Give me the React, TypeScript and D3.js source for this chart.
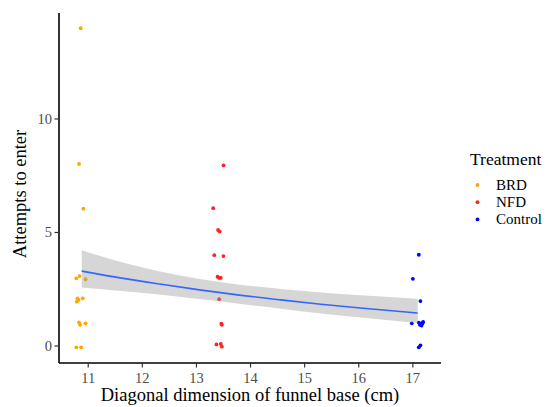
import React from "react";
import * as d3 from "d3";

// Jittered observations (x = funnel diagonal in cm, y = attempts)
const brdX = [10.86, 10.83, 10.91, 10.78, 10.84, 10.95, 10.80, 10.90, 10.79, 10.82, 10.83, 10.85, 10.95, 10.78, 10.87];
const brdY = [14.0, 8.02, 6.05, 2.98, 3.08, 2.94, 2.10, 2.10, 1.95, 2.03, 1.04, 0.93, 1.0, -0.06, -0.06];
const nfdX = [13.50, 13.31, 13.40, 13.43, 13.33, 13.50, 13.39, 13.42, 13.45, 13.42, 13.46, 13.47, 13.37, 13.45, 13.47];
const nfdY = [7.96, 6.07, 5.11, 5.04, 4.0, 3.96, 3.05, 3.0, 3.0, 2.06, 0.98, 0.93, 0.07, 0.09, -0.03];
const ctlX = [17.11, 17.00, 17.14, 16.98, 17.11, 17.14, 17.18, 17.19, 17.13, 17.16, 17.17, 17.11, 17.14];
const ctlY = [4.02, 2.96, 1.98, 1.0, 1.03, 0.97, 1.01, 1.06, 0.93, 0.90, 0.99, -0.06, 0.03];

// Fitted smooth and its confidence band
const fitX = [10.88, 11.62, 12.35, 13.09, 13.83, 14.56, 15.30, 16.03, 17.09];
const fitY = [3.30, 2.99, 2.72, 2.46, 2.23, 2.03, 1.84, 1.67, 1.45];
const fitUpper = [4.22, 3.69, 3.27, 2.94, 2.69, 2.51, 2.36, 2.24, 2.08];
const fitLower = [2.58, 2.42, 2.26, 2.06, 1.85, 1.64, 1.43, 1.25, 1.01];

const xTicks = [11, 12, 13, 14, 15, 16, 17];
const yTicks = [0, 5, 10];
const groups = ["BRD", "NFD", "Control"];
const groupColors = ["#FFA500", "#FF2020", "#0000FF"];

const W = 551;
const H = 407;
const left = 59;
const right = 441;
const top = 13;
const bottom = 363;
const font = "'Liberation Serif', 'Times New Roman', serif";

export default function App() {
  const x = d3.scaleLinear().domain([10.46, 17.52]).range([left, right]);
  const y = d3.scaleLinear().domain([-0.75, 14.67]).range([bottom, top]);

  const series = [
    { xs: brdX, ys: brdY, color: groupColors[0] },
    { xs: nfdX, ys: nfdY, color: groupColors[1] },
    { xs: ctlX, ys: ctlY, color: groupColors[2] },
  ];

  const fit = fitX.map((v, i) => ({ x: v, y: fitY[i], lo: fitLower[i], hi: fitUpper[i] }));
  const area = d3
    .area<any>()
    .x((d) => x(d.x))
    .y0((d) => y(d.lo))
    .y1((d) => y(d.hi))
    .curve(d3.curveMonotoneX);
  const line = d3
    .line<any>()
    .x((d) => x(d.x))
    .y((d) => y(d.y))
    .curve(d3.curveMonotoneX);

  return (
    <svg width={W} height={H} style={{ position: "absolute", left: 0, top: 0, background: "#fff" }}>
      <rect width={W} height={H} fill="#fff" />
      {series.map((s, si) =>
        s.xs.map((v, i) => (
          <circle key={`${si}-${i}`} cx={x(v)} cy={y(s.ys[i])} r={1.9} fill={s.color} />
        ))
      )}
      <path d={area(fit) || ""} fill="#999999" fillOpacity={0.4} />
      <path d={line(fit) || ""} fill="none" stroke="#3366FF" strokeWidth={1.6} />

      {/* axes */}
      <line x1={left} x2={right} y1={bottom} y2={bottom} stroke="#000" strokeWidth={1.6} />
      <line x1={left} x2={left} y1={top} y2={bottom} stroke="#000" strokeWidth={1.6} />
      {xTicks.map((t) => (
        <g key={`x${t}`}>
          <line x1={x(t)} x2={x(t)} y1={bottom} y2={bottom + 4.5} stroke="#333" strokeWidth={1.2} />
          <text x={x(t)} y={bottom + 20} textAnchor="middle" fontFamily={font} fontSize={14.5} fill="#4D4D4D">
            {t}
          </text>
        </g>
      ))}
      {yTicks.map((t) => (
        <g key={`y${t}`}>
          <line x1={left - 4.5} x2={left} y1={y(t)} y2={y(t)} stroke="#333" strokeWidth={1.2} />
          <text x={left - 7} y={y(t) + 5} textAnchor="end" fontFamily={font} fontSize={14.5} fill="#4D4D4D">
            {t}
          </text>
        </g>
      ))}
      <text x={(left + right) / 2} y={401} textAnchor="middle" fontFamily={font} fontSize={18.5} fill="#000">
        Diagonal dimension of funnel base (cm)
      </text>
      <text
        transform={`translate(26, ${(top + bottom) / 2 + 6}) rotate(-90)`}
        textAnchor="middle"
        fontFamily={font}
        fontSize={18.5}
        fill="#000"
      >
        Attempts to enter
      </text>

      {/* legend */}
      <text x={470} y={165} fontFamily={font} fontSize={17.5} fill="#000">
        Treatment
      </text>
      {groups.map((g, i) => (
        <g key={g}>
          <circle cx={477.5} cy={185 + i * 17.2} r={1.9} fill={groupColors[i]} />
          <text x={496} y={190 + i * 17.2} fontFamily={font} fontSize={15} fill="#000">
            {g}
          </text>
        </g>
      ))}
    </svg>
  );
}
